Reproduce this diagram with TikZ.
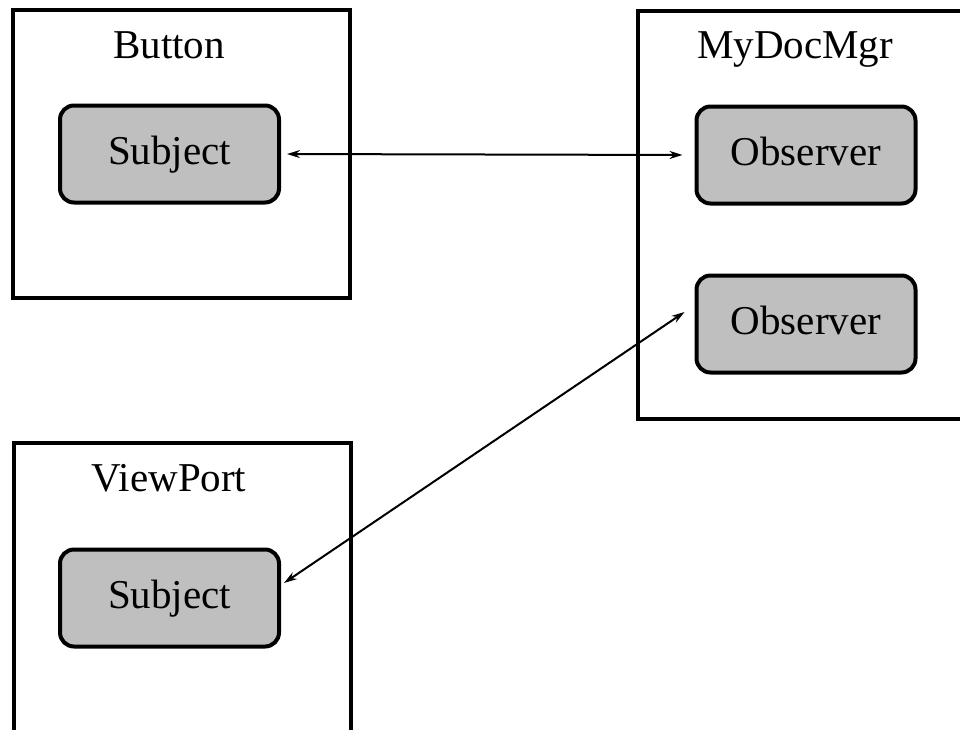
\documentclass[tikz,border=0pt]{standalone}
\usepackage{fontspec}
\setmainfont{Liberation Serif}
\usetikzlibrary{arrows.meta,calc}
\begin{document}
\begin{tikzpicture}[x=1pt,y=-1pt,
  objbox/.style={line width=4pt,draw=black},
  role/.style={draw=black,line width=4pt,fill=gray!50,rounded corners=14pt,
    minimum width=219pt,minimum height=97pt,inner sep=0pt,
    font=\fontsize{41}{48}\selectfont,text height=29pt,text depth=8pt},
  title/.style={anchor=base,font=\fontsize{41}{48}\selectfont,inner sep=0pt},
  link/.style={line width=2pt,{Stealth[length=13pt,width=8pt]}-{Stealth[length=13pt,width=8pt]}}]
\useasboundingbox (0,0) rectangle (960,729);
\clip (0,0) rectangle (960,729);
\fill[white] (0,0) rectangle (960,729);

% outer object frames
\draw[objbox] (13,10) rectangle (350,298);
\draw[objbox] (975,11) -- (638,11) -- (638,419) -- (975,419);
\draw[objbox] (14,760) -- (14,443) -- (351,443) -- (351,760);

% frame titles
\node[title] (tbutton) at (169,58) {Button};
\node[title] (tmgr) at (795,58) {MyDocMgr};
\node[title] (tview) at (169,491) {ViewPort};

% roles
\node[role] (s1) at (169.5,154) {Subject};
\node[role] (o1) at (806,155) {Observer};
\node[role] (o2) at (806,324) {Observer};
\node[role] (s2) at (169.5,598) {Subject};

% subject/observer links
\draw[link,shorten <=6pt,shorten >=12pt] (s1.east) -- (o1.west);
\draw[link] ($(s2.east)+(3,-15)$) -- ($(o2.west)+(-10,-12)$);
\end{tikzpicture}
\end{document}
